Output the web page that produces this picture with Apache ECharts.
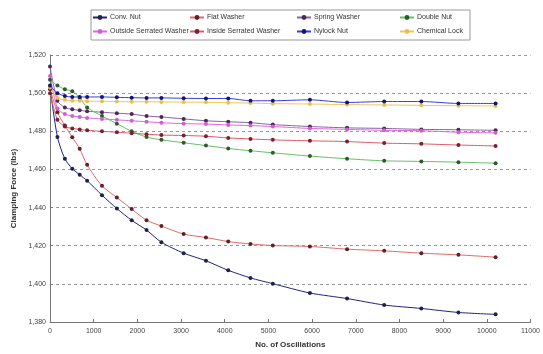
<!DOCTYPE html>
<html>
<head>
<meta charset="utf-8">
<script src="https://cdn.jsdelivr.net/npm/echarts@6/dist/echarts.min.js"></script>
<style>
html,body{margin:0;padding:0;background:#fff;}
#chart{width:543px;height:354px;}
</style>
</head>
<body>
<div id="chart"></div>
<script>
var oscillations = [0,170,340,510,680,850,1190,1530,1870,2210,2550,3060,3570,4080,4590,5100,5950,6800,7650,8500,9350,10200];
var yTicks = [1380,1400,1420,1440,1460,1480,1500,1520];
var xTicks = [0,1000,2000,3000,4000,5000,6000,7000,8000,9000,10000,11000];

var convNut = [1503,1477,1465.6,1460.4,1457.2,1454.1,1446.5,1439.5,1433.3,1428.2,1421.8,1416.1,1412.1,1407.1,1403.1,1400.1,1395.2,1392.3,1388.9,1387.1,1385.0,1384.0];
var flatWasher = [1502,1490,1483,1476.9,1470.8,1462.4,1451.4,1445.3,1439.2,1433.4,1430.3,1426.1,1424.3,1422.2,1420.9,1420.1,1419.6,1418.2,1417.3,1416.1,1415.2,1414.0];
var springWasher = [1514,1496,1492.5,1491.5,1491,1490.5,1490,1489.5,1489,1488,1487.5,1486.5,1485.5,1485,1484.5,1483.5,1482.5,1481.8,1481.5,1481,1480.8,1480.5];
var doubleNut = [1507,1504,1502,1501,1497.5,1492.5,1488,1484,1480,1477,1475.5,1474,1472.5,1471,1469.8,1468.7,1467,1465.6,1464.5,1464.2,1463.8,1463.3];
var outsideSerrated = [1509,1492,1489,1488,1487.5,1487,1486.5,1486,1485.5,1485,1484.5,1484,1483.8,1483.3,1483,1482.5,1481.5,1481,1480.5,1480.3,1479.5,1479.2];
var insideSerrated = [1500,1486,1482.5,1481.5,1481,1480.5,1480,1479.5,1479,1478.5,1478,1477.8,1477.4,1476.5,1476,1475.5,1475,1474.6,1473.8,1473.4,1472.8,1472.3];
var nylockNut = [1504,1500,1498.5,1498,1498,1498,1498,1497.8,1497.6,1497.5,1497.5,1497.3,1497.2,1497.2,1496,1496,1496.5,1495.1,1495.6,1495.6,1494.6,1494.6];
var chemicalLock = [1503,1497.5,1496.5,1496,1496,1495.8,1495.7,1495.6,1495.5,1495.5,1495.4,1495.3,1495.2,1495,1494.8,1494.5,1494.3,1494,1493.8,1493.6,1493.4,1493.3];

var seriesNames = ['Conv. Nut','Flat Washer','Spring Washer','Double Nut','Outside Serrated Washer','Inside Serrated Washer','Nylock Nut','Chemical Lock'];
var seriesData = [convNut,flatWasher,springWasher,doubleNut,outsideSerrated,insideSerrated,nylockNut,chemicalLock];
var lineColors = ['#23237a','#e06a6a','#8a62a8','#66c066','#e066e0','#e05a6a','#3a3ae0','#f0c850'];
var markColors = ['#202048','#602028','#4a2a50','#2f5a2f','#d060d0','#7a2030','#141470','#e8c050'];

function pairs(arr){ return oscillations.map(function(x,i){ return [x, arr[i]]; }); }

var font = 'Liberation Sans, Arial, sans-serif';
var colX = [92,189,296,399];
var rowY = [14,28];
var legends = seriesNames.map(function(n,i){
  return {
    data:[n], left: colX[i%4], top: rowY[Math.floor(i/4)],
    padding:0, itemWidth:14, itemHeight:6, itemGap:2,
    textStyle:{fontSize:7, fontFamily:font, color:'#333', padding:[0,0,0,-2]}
  };
});

var chart = echarts.init(document.getElementById('chart'), null, {renderer:'canvas'});
chart.setOption({
  animation:false,
  backgroundColor:'#fff',
  legend: legends,
  graphic:[{type:'rect', shape:{x:91,y:10,width:379,height:30}, style:{fill:null, stroke:'#999', lineWidth:1}, silent:true}],
  grid:{left:50, right:10, top:55, bottom:30},
  xAxis:{
    type:'value', min:0, max:11000, interval:1000,
    name:'No. of Oscillations', nameLocation:'middle', nameGap:19,
    nameTextStyle:{fontSize:8, fontWeight:'bold', fontFamily:font, color:'#333'},
    axisLine:{lineStyle:{color:'#777'}},
    axisTick:{show:true, length:3, inside:true, lineStyle:{color:'#777'}},
    axisLabel:{fontSize:7, fontFamily:font, color:'#444', margin:6,
      customValues: xTicks, formatter:function(v){return String(v);}},
    splitLine:{show:false}
  },
  yAxis:{
    type:'value', min:1380, max:1520, interval:20,
    name:'Clamping Force (lbs)', nameLocation:'middle', nameGap:31, nameRotate:90,
    nameTextStyle:{fontSize:8, fontWeight:'bold', fontFamily:font, color:'#333'},
    axisLine:{show:true, lineStyle:{color:'#777'}},
    axisTick:{show:true, length:3, inside:true, lineStyle:{color:'#777'}},
    axisLabel:{fontSize:7, fontFamily:font, color:'#444', margin:4,
      customValues: yTicks, formatter:function(v){return v.toLocaleString('en-US');}},
    splitLine:{show:true, lineStyle:{color:'#999', type:[3,3], width:1}}
  },
  series: seriesNames.map(function(n,i){
    return {
      name:n, type:'line', data:pairs(seriesData[i]),
      symbol:'circle', symbolSize:4, showSymbol:true,
      smooth:0.25,
      lineStyle:{color:lineColors[i], width:1},
      itemStyle:{color:markColors[i]},
      z: i===6 ? 11 : 10
    };
  })
});
</script>
</body>
</html>
